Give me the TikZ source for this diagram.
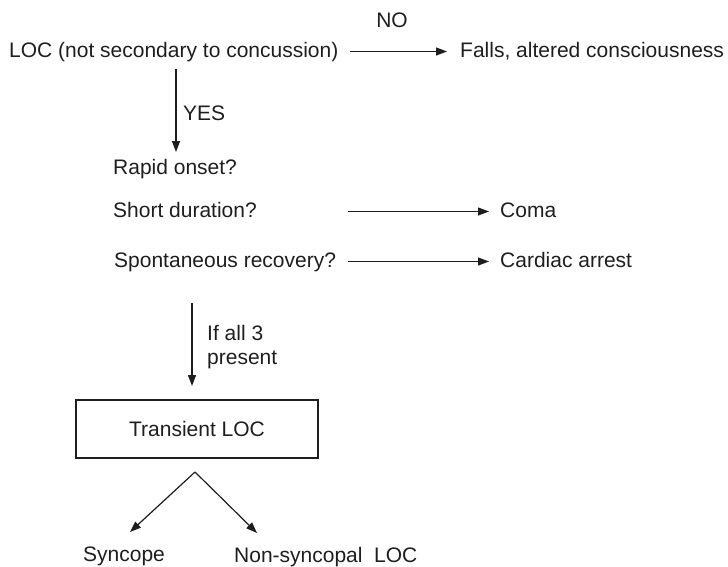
\documentclass[tikz,border=0pt]{standalone}
\usepackage{fontspec}
\setmainfont{Liberation Sans}
\usetikzlibrary{arrows.meta}
\definecolor{inkGray}{HTML}{1E1E1E}

\begin{document}
\begin{tikzpicture}[x=1pt,y=-1pt,
  lbl/.style={anchor=base west,inner sep=0pt,text=inkGray,font=\fontsize{21}{23}\selectfont,text height=15pt,text depth=4pt},
  decbox/.style={draw=inkGray,line width=1.3pt,minimum width=242pt,minimum height=58pt,inner sep=0pt,text=inkGray,font=\fontsize{21}{23}\selectfont},
  flow/.style={-{Triangle[length=11pt,width=8pt]},draw=inkGray,line width=1.2pt}]
  \useasboundingbox (0,0) rectangle (728,566);
  % first question
  \node[lbl] (loc) at (9,57) {LOC (not secondary to concussion)};
  \node[lbl] (falls) at (460,57) {Falls, altered consciousness};
  \node[lbl,anchor=base] (no) at (392,27) {NO};
  \draw[flow] ([xshift=11pt]loc.east) -- ([xshift=-13pt]falls.west);
  \coordinate (yesTop) at (176,69);
  \coordinate (yesTip) at (176,152);
  \draw[flow] (yesTop) -- (yesTip);
  \node[lbl] (yes) at (183,120) {YES};
  % the three checks
  \node[lbl] (rapid) at (113,174) {Rapid onset?};
  \node[lbl] (short) at (113,217) {Short duration?};
  \node[lbl] (spont) at (114,267) {Spontaneous recovery?};
  \node[lbl] (coma) at (500,217) {Coma};
  \node[lbl] (arrest) at (500,267) {Cardiac arrest};
  \draw[flow] ([xshift=12pt]spont.east |- short.east) -- ([xshift=-11pt]coma.west);
  \draw[flow] ([xshift=12pt]spont.east) -- ([xshift=-11pt]arrest.west);
  % all three present
  \coordinate (allTop) at (192,303);
  \coordinate (allTip) at (192,386);
  \draw[flow] (allTop) -- (allTip);
  \node[lbl] (ifall) at (207,340) {If all 3};
  \node[lbl] (present) at (207,364) {present};
  \node[decbox] (tloc) at (197,429) {Transient LOC};
  % split
  \coordinate (apex) at (195,472);
  \node[lbl] (sync) at (83,561) {Syncope};
  \node[lbl] (nonsync) at (234,562) {Non-syncopal~ LOC};
  \coordinate (syncTip) at (130,532);
  \coordinate (nonTip) at (257,533);
  \draw[flow] (apex) -- (syncTip);
  \draw[flow] (apex) -- (nonTip);
\end{tikzpicture}
\end{document}
